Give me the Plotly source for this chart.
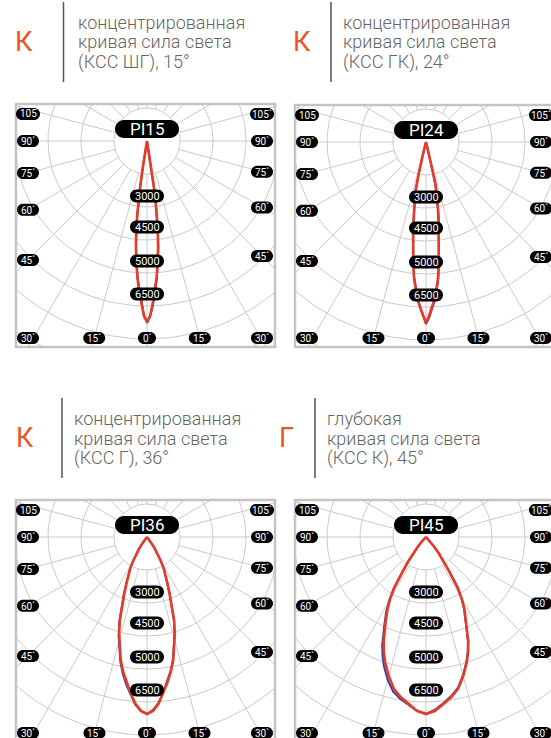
import numpy as np
import plotly.graph_objects as go

W, H = 551, 738

# ---------------- data ----------------
# intensity vs angle from nadir, same radial units as the grid (one ring = 33)
ang_15 = [0, 1, 2, 3, 4, 5, 6, 7, 7.5, 8, 8.5, 9, 9.5, 10, 12]
red_15 = [181, 175, 163, 150, 137, 122, 106, 88, 75, 62, 46, 28, 12, 4, 0]
blue_15_l = [181, 174, 162, 149, 136, 121, 105, 87, 74, 61, 45, 27, 11, 3, 0]
blue_15_r = [182, 176, 165, 152, 139, 124, 108, 90, 77, 64, 48, 30, 14, 5, 0]

ang_24 = [0, 1, 2, 3, 4, 5, 6, 7, 8, 9, 10, 11, 12, 12.5, 13, 14, 15, 16]
red_24 = [181, 174, 166, 158, 148, 137, 122, 106, 93, 80, 69, 59, 51, 44, 31, 13, 4, 0]
blue_24_l = [181, 173, 165, 157, 147, 136, 121, 105, 92, 79, 68, 58, 50, 43, 30, 12, 3, 0]
blue_24_r = [182, 176, 168, 160, 150, 139, 124, 108, 95, 82, 71, 61, 52, 45, 32, 14, 4, 0]

ang_36 = [0, 2, 4, 6, 8, 10, 12, 14, 16, 18, 20, 22, 24, 26, 28, 30, 32, 34, 36, 38, 40]
red_36 = [177, 174, 167, 157, 147, 137, 126, 112, 101, 88, 73, 60, 50, 43, 36, 28, 21, 14, 7, 2, 0]
blue_36_l = [177, 174, 168, 158, 149, 139, 128, 114, 103, 90, 75, 62, 51, 44, 36, 28, 21, 14, 7, 2, 0]
blue_36_r = [177, 173, 166, 156, 146, 136, 125, 111, 100, 87, 72, 59, 49, 42, 35, 27, 20, 13, 6, 2, 0]

ang_45 = [0, 3, 6, 9, 12, 15, 18, 20, 22, 25, 28, 30, 32, 34, 36, 38, 40, 42, 45, 50]
red_45 = [177, 174, 168, 162, 155, 144, 132, 123, 113, 96, 82, 72, 60, 42, 30, 21, 13, 7, 2, 0]
blue_45_l = [177, 174, 169, 164, 158, 148, 136, 127, 117, 99, 85, 74, 61, 43, 31, 21, 13, 7, 2, 0]
blue_45_r = [177, 173, 167, 161, 154, 143, 131, 122, 112, 95, 81, 71, 59, 41, 29, 20, 12, 6, 2, 0]

lamp_names = ["PI15", "PI24", "PI36", "PI45"]
big_letters = ["К", "К", "К", "Г"]
captions = [
    ["концентрированная", "кривая сила света", "(КСС ШГ), 15°"],
    ["концентрированная", "кривая сила света", "(КСС ГК), 24°"],
    ["концентрированная", "кривая сила света", "(КСС Г), 36°"],
    ["глубокая", "кривая сила света", "(КСС К), 45°"],
]

ring_step = 33
n_rings = 8
spoke_angles = list(range(0, 360, 15))
tick_angles = [0, 15, 30, 45, 60, 75, 90, 105]
value_labels = ["3000", "4500", "5000", "6500"]
value_label_r = [55, 86, 120, 153]

curves = [
    (ang_15, red_15, blue_15_l, blue_15_r),
    (ang_24, red_24, blue_24_l, blue_24_r),
    (ang_36, red_36, blue_36_l, blue_36_r),
    (ang_45, red_45, blue_45_l, blue_45_r),
]

# panel boxes in page pixels: left, top, right, bottom, centre x, centre y
panels = [
    dict(box=(16, 104, 275, 347), c=(147, 141)),
    dict(box=(295, 105, 554, 347), c=(426, 142)),
    dict(box=(16, 500, 275, 742), c=(147, 537)),
    dict(box=(295, 500, 554, 742), c=(426, 537)),
]
# header positions: letter x, vline x, text x, top y
headers = [(24, 63.5, 76, 2), (302, 331, 341, 2), (25, 62, 72, 398), (286, 315, 325, 398)]

RED = "#e63c26"
BLUE = "#3b3f9e"
GRID = "#cacaca"
ORANGE = "#ea5427"


def to_xy(ang, r, side=1):
    a = np.radians(np.asarray(ang, float))
    r = np.asarray(r, float)
    return side * r * np.sin(a), -r * np.cos(a)


def lobe(ang, left, right):
    xl, yl = to_xy(ang, left, -1)
    xr, yr = to_xy(ang, right, 1)
    return np.concatenate([xl[::-1], xr]), np.concatenate([yl[::-1], yr])


def pill(xc, yc, w, h):
    r = h / 2
    k = 0.5523 * r
    x0, x1 = xc - w / 2 + r, xc + w / 2 - r
    y0, y1 = yc - r, yc + r
    return (f"M {x0},{y0} L {x1},{y0} C {x1 + k},{y0} {x1 + r},{yc - k} {x1 + r},{yc} "
            f"C {x1 + r},{yc + k} {x1 + k},{y1} {x1},{y1} L {x0},{y1} "
            f"C {x0 - k},{y1} {x0 - r},{yc + k} {x0 - r},{yc} C {x0 - r},{yc - k} {x0 - k},{y0} {x0},{y0} Z")


fig = go.Figure()
shapes = []
annotations = []
lab_font = "Roboto"

for i, p in enumerate(panels):
    left, top, right, bottom = p["box"]
    cx, cy = p["c"]
    sfx = "" if i == 0 else str(i + 1)
    xa, ya = "x" + sfx, "y" + sfx
    vis_r = min(right, W)
    vis_b = min(bottom, H)
    fig.layout["xaxis" + sfx] = dict(domain=[left / W, vis_r / W], range=[left - cx, vis_r - cx],
                                     visible=False, fixedrange=True)
    fig.layout["yaxis" + sfx] = dict(domain=[1 - vis_b / H, 1 - top / H], range=[-(vis_b - cy), cy - top],
                                     visible=False, fixedrange=True)

    # grid: rings and spokes
    gx, gy = [], []
    t = np.linspace(0, 360, 181)
    for k in range(1, n_rings + 1):
        x, y = to_xy(t, np.full_like(t, k * ring_step))
        gx += list(x) + [None]
        gy += list(y) + [None]
    for a in spoke_angles:
        x, y = to_xy([a, a], [ring_step, 400])
        gx += list(x) + [None]
        gy += list(y) + [None]
    fig.add_trace(go.Scatter(x=gx, y=gy, mode="lines", line=dict(color=GRID, width=1),
                             xaxis=xa, yaxis=ya, hoverinfo="skip", showlegend=False))

    ang, red, bl, br = curves[i]
    x, y = lobe(ang, bl, br)
    fig.add_trace(go.Scatter(x=x, y=y, mode="lines", line=dict(color=BLUE, width=2),
                             xaxis=xa, yaxis=ya, showlegend=False))
    x, y = lobe(ang, red, red)
    fig.add_trace(go.Scatter(x=x, y=y, mode="lines", line=dict(color=RED, width=2.6),
                             xaxis=xa, yaxis=ya, showlegend=False))

    # border
    shapes.append(dict(type="rect", xref="paper", yref="paper", x0=left / W, x1=right / W,
                       y0=1 - bottom / H, y1=1 - top / H, line=dict(color="#c4c4c4", width=2.5)))

    def label(xc, yc, text, w, h, size):
        shapes.append(dict(type="path", xref=xa, yref=ya, path=pill(xc, yc, w, h),
                           fillcolor="black", line=dict(width=0)))
        annotations.append(dict(xref=xa, yref=ya, x=xc, y=yc, text=text, showarrow=False,
                                font=dict(family=lab_font, size=size, color="white"),
                                xanchor="center", yanchor="middle"))

    # lamp name
    label(0, 12, lamp_names[i], 64, 18, 17)

    # intensity labels along nadir
    for txt, r in zip(value_labels, value_label_r):
        label(0, -r, txt, 34, 13, 11)

    # angle labels at the frame
    col_l, col_r = left + 12 - cx, right - 13 - cx
    row_b = -(bottom - 9 - cy)
    row_t = cy - (top + 10)
    for a in tick_angles:
        for side in ([1] if a == 0 else [-1, 1]):
            ra = np.radians(a)
            if a >= 30:
                xc = col_r if side > 0 else col_l
                yc = -abs(xc) / np.tan(ra) if a != 90 else 0.0
                yc = min(max(yc, row_b), row_t)
            else:
                yc = row_b
                xc = side * abs(row_b) * np.tan(ra)
            txt = f"{a}<sup>°</sup>" if not (a == 105 and side < 0) else f"{a}"
            w = 24 if a >= 100 else (22 if a >= 10 else 18)
            label(xc, yc, txt, w, 12, 10)

    # header
    lx, vx, tx, ty = headers[i]
    annotations.append(dict(xref="paper", yref="paper", x=lx / W, y=1 - (ty + 40) / H, text=big_letters[i],
                            showarrow=False, xanchor="center", yanchor="middle",
                            font=dict(family="Roboto", size=27, color=ORANGE)))
    shapes.append(dict(type="line", xref="paper", yref="paper", x0=vx / W, x1=vx / W,
                       y0=1 - ty / H, y1=1 - (ty + 80) / H, line=dict(color="#555555", width=1.5)))
    for j, line in enumerate(captions[i]):
        annotations.append(dict(xref="paper", yref="paper", x=tx / W, y=1 - (ty + 20 + 20 * j) / H,
                                text=line, showarrow=False, xanchor="left", yanchor="middle",
                                font=dict(family="Roboto", size=18, color="#666666", weight=300)))

fig.update_layout(width=W, height=H, margin=dict(l=0, r=0, t=0, b=0),
                  plot_bgcolor="white", paper_bgcolor="white",
                  shapes=shapes, annotations=annotations, showlegend=False)

fig.write_html("out.html", config={"displayModeBar": False},
               post_script="document.body.style.margin='0';")
